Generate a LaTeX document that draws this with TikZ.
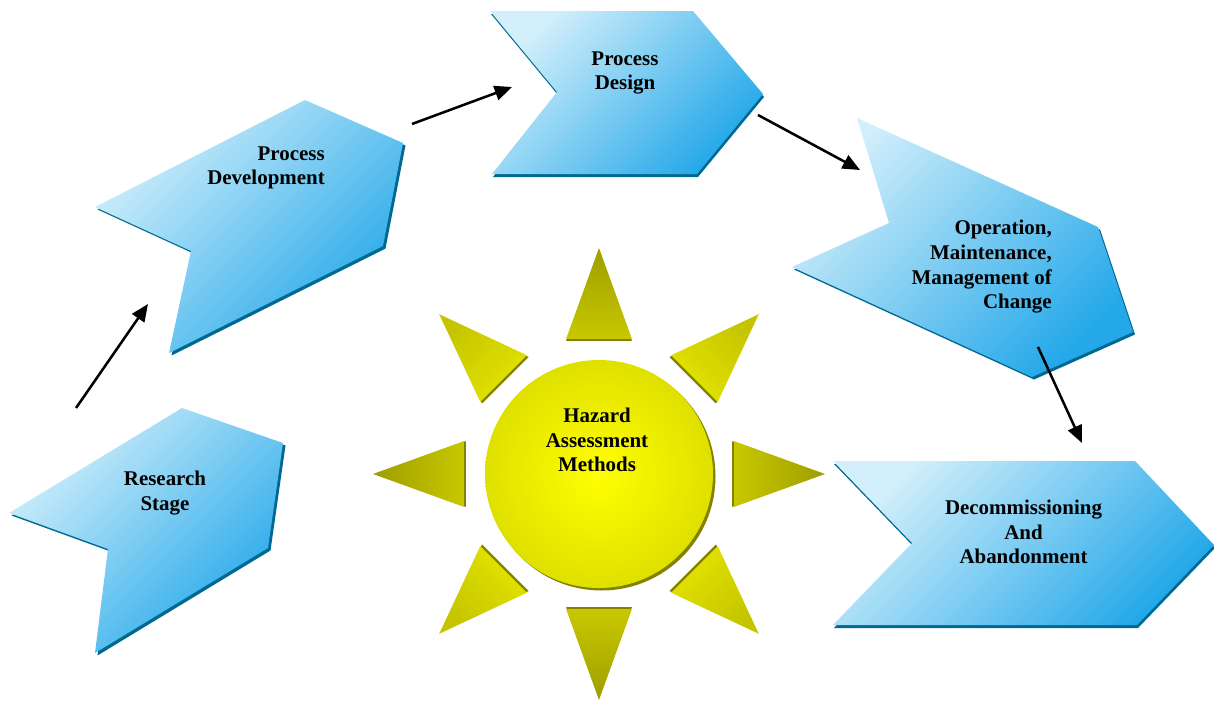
\documentclass[tikz,border=0pt]{standalone}
\usepackage{fontspec}
\setmainfont{Liberation Serif}
\usetikzlibrary{arrows.meta,calc}
\definecolor{chevlight}{RGB}{210,239,251}
\definecolor{chevdark}{RGB}{36,168,233}
\definecolor{chevshadow}{RGB}{0,105,145}
\definecolor{raylight}{RGB}{200,200,0}
\definecolor{raydark}{RGB}{158,158,0}
\definecolor{diaglight}{RGB}{228,228,0}
\definecolor{diagdark}{RGB}{196,196,0}
\definecolor{rayshadow}{RGB}{130,130,0}
\definecolor{sunlight}{RGB}{255,255,0}
\definecolor{sunedge}{RGB}{224,224,0}
\tikzset{
  chevron/.style={top color=chevlight, bottom color=chevdark, shading angle=45},
  chevshade/.style={fill=chevshadow},
  txt/.style={font=\bfseries\fontsize{15.7}{18.5}\selectfont, align=center, inner sep=0pt, text=black},
  flow/.style={line width=1.9pt, -{Triangle[length=13pt,width=11pt]}},
  ray/.style={top color=raydark, bottom color=raylight},
  diagray/.style={top color=diagdark, bottom color=diaglight},
  rayshade/.style={fill=rayshadow},
}
\newcommand\rspath{(9,513) -- (182,408) -- (283,443) -- (268,548) -- (95,653) -- (108,549) -- cycle}
\newcommand\pdpath{(95,207) -- (305,100) -- (403,143) -- (383,246) -- (169,353) -- (191,251) -- cycle}
\newcommand\dspath{(490,11) -- (693,11) -- (763,94) -- (697,174) -- (492,174) -- (557,92) -- cycle}
\newcommand\oppath{(792,267) -- (889,223) -- (857,118) -- (1098,227) -- (1133,332) -- (1032,377) -- cycle}
\newcommand\dcpath{(833,461) -- (1135,461) -- (1214,545) -- (1137,625) -- (833,625) -- (912,543) -- cycle}
\begin{document}
\begin{tikzpicture}[x=0.75pt,y=-0.75pt]
\useasboundingbox (0,0) rectangle (1214,700);
% chevrons
\fill[chevshade, shift={(2.5,2.5)}] \rspath;
\shade[chevron] \rspath;
\fill[chevshade, shift={(2.5,2.5)}] \pdpath;
\shade[chevron] \pdpath;
\fill[chevshade, shift={(1,3)}] \dspath;
\shade[chevron] \dspath;
\fill[chevshade, shift={(2,2.5)}] \oppath;
\shade[chevron] \oppath;
\fill[chevshade, shift={(1,3)}] \dcpath;
\shade[chevron] \dcpath;
% sun rays
\begin{scope}[shift={(599,474)}]
\foreach \a in {0,90,180,270}{
  \pgfmathsetmacro\s{-\a-90}
  \fill[rayshade, shift={(\a+180:2)}] (\a:226) -- (\a+13.7:139) -- (\a-13.7:139) -- cycle;
  \shade[ray, shading angle=\s] (\a:226) -- (\a+13.7:139) -- (\a-13.7:139) -- cycle;
}
\foreach \a in {45,135,225,315}{
  \pgfmathsetmacro\s{-\a-90}
  \fill[rayshade, shift={(\a+180:2.5)}] (\a:226) -- (\a+13.7:139) -- (\a-13.7:139) -- cycle;
  \shade[diagray, shading angle=\s] (\a:226) -- (\a+13.7:139) -- (\a-13.7:139) -- cycle;
}
\end{scope}
% sun disc
\fill[rayshadow] (601.5,476.5) circle (114);
\shade[inner color=sunlight, outer color=sunedge] (599,474) circle (114);
% texts
\node[txt] (rsText) at (165,493) {Research\\Stage};
\node[txt, align=right, anchor=east] (pdText) at (325,168) {Process\\Development};
\node[txt] (dsText) at (625,73) {Process\\Design};
\node[txt, align=right, anchor=east] (opText) at (1052,267) {Operation,\\Maintenance,\\Management of\\Change};
\node[txt] (dcText) at (1023.5,532) {Decommissioning\\And\\Abandonment};
\node[txt] (haText) at (597,440) {Hazard\\Assessment\\Methods};
% connectors
\coordinate (rsOut) at (76,408);
\coordinate (pdIn) at (148,304);
\coordinate (pdOut) at (412,124);
\coordinate (dsIn) at (512,87);
\coordinate (dsOut) at (758,115);
\coordinate (opIn) at (860,170);
\coordinate (opOut) at (1038,347);
\coordinate (dcIn) at (1082,443);
\draw[flow] (rsOut) -- (pdIn);
\draw[flow] (pdOut) -- (dsIn);
\draw[flow] (dsOut) -- (opIn);
\draw[flow] (opOut) -- (dcIn);
\end{tikzpicture}
\end{document}
